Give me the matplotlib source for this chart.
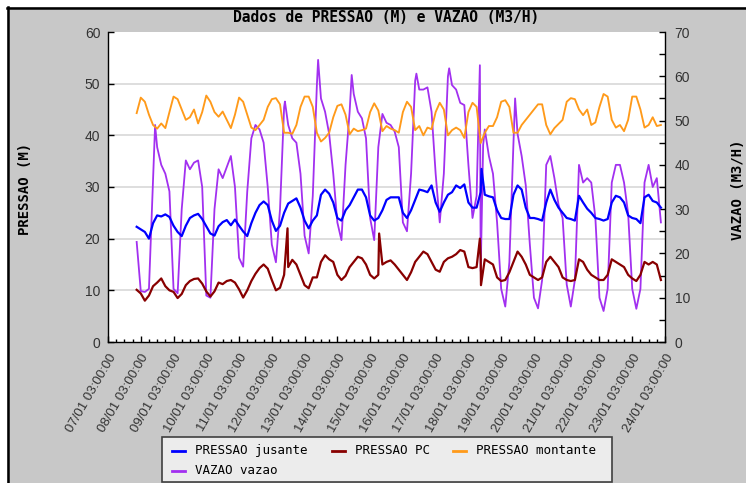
import numpy as np
import matplotlib
matplotlib.use("Agg")
import matplotlib.pyplot as plt
from matplotlib.patches import Rectangle
from matplotlib.lines import Line2D
from matplotlib.transforms import blended_transform_factory

# ---------------- data ----------------
# hours since 07/01 03:00:00 ; samples every 3 h from 08/01 00:00 to 24/01 00:00
sample_hours = 21 + 3 * np.arange(129)

day_labels = ["%02d/01 03:00:00" % d for d in range(7, 25)]
left_ticks = [0, 10, 20, 30, 40, 50, 60]
right_ticks = [0, 10, 20, 30, 40, 50, 60, 70]

pressao_montante = [
    44.3, 47.3, 46.5, 44, 42, 41.3, 42.3, 41.4, 44.5, 47.5,
    47, 45, 43, 43.5, 45, 42.3, 44.5, 47.7, 46.5, 44.5,
    43.6, 44.6, 43, 41.4, 44, 47.3, 46.5, 44, 41.5, 41,
    42, 43, 45.5, 47, 47.2, 46, 40.5, 40.5, 40.3, 42,
    45.5, 47.5, 47.5, 45.5, 40.5, 38.8, 39.5, 40.5, 43.5, 45.7,
    46, 44, 40.2, 41.3, 40.8, 41, 41.3, 44.5, 46.2, 44.8,
    40.8, 41.8, 41.3, 41, 40.5, 44.5, 46.5, 45.5, 41, 41.8,
    40, 41.5, 41.2, 44.5, 46.3, 45, 40, 41, 41.5, 41,
    39.5, 44.5, 46.3, 45.5, 38.5, 40.5, 41.8, 41.8, 43.5, 46.5,
    46.8, 45.5, 40.5, 40.5, 42, 43, 44, 45, 46, 46,
    42, 40.2, 41.4, 42.2, 43, 46.5, 47.2, 47, 45, 43.9,
    45, 42, 42.5, 45.5, 48, 47.5, 43, 41.5, 42, 40.8,
    43, 47.5, 47.5, 45, 41.5, 42, 43.5, 41.8, 42]

pressao_jusante = [
    22.3, 21.8, 21.3, 20, 23, 24.5, 24.3, 24.7, 24.2, 22.5,
    21.3, 20.5, 22.5, 24, 24.5, 24.8, 23.8, 22.4, 21, 20.6,
    22.4, 23.2, 23.6, 22.6, 23.7, 22.5, 21.4, 20.5, 23, 25,
    26.5, 27.2, 26.5, 23.5, 21.5, 22.5, 25, 26.8, 27.3, 27.8,
    26, 23.5, 22, 23.5, 24.5, 28.5, 29.5, 28.7, 27, 24,
    23.5, 25.5, 26.5, 28, 29.5, 29.5, 28, 24.5, 23.5, 24,
    25.5, 27.5, 28, 28, 28, 25, 24, 25.5, 27.5, 29.5,
    29.3, 29, 30.3, 27, 25.2, 27, 28.5, 29, 30.3, 29.8,
    30.5, 27, 26, 26, 29, 28.5, 28.2, 28, 25.5, 24,
    23.8, 23.8, 28.5, 30.3, 29.5, 26, 24, 24, 23.8, 23.5,
    27, 29.5, 27.5, 26, 25, 24, 23.8, 23.5, 28.3, 27,
    25.8, 25, 24, 23.8, 23.5, 23.8, 27, 28.3, 28, 27,
    24.5, 24, 23.8, 23, 28, 28.5, 27.3, 27, 26]

pressao_pc = [
    10.1, 9.4, 8, 9, 10.8, 11.5, 12.3, 10.8, 10, 9.7,
    8.5, 9.3, 11, 11.8, 12.2, 12.3, 11.3, 9.8, 8.8, 9.8,
    11.5, 11.2, 11.8, 12, 11.5, 10.2, 8.6, 10, 11.8, 13.2,
    14.3, 15, 14.2, 12, 10, 10.5, 13, 14.5, 15.9, 15,
    13, 11, 10.4, 12.5, 12.5, 15.5, 16.8, 16, 15.5, 13,
    12, 12.8, 14.5, 15.5, 16.5, 16.2, 15, 13, 12.3, 13,
    15, 15.5, 15.8, 15, 14, 13, 12, 13.5, 15.5, 16.5,
    17.5, 17, 15.5, 14, 13.6, 15.5, 16.2, 16.5, 17, 17.8,
    17.5, 14.5, 14.3, 14.5, 16, 16, 15.5, 15, 12.5, 11.8,
    12, 13.5, 15.5, 17.5, 16.5, 15, 13, 12.5, 12, 12.5,
    15.5, 16.5, 15.5, 14.5, 12.5, 12, 11.8, 12, 16, 15.5,
    14, 13, 12.5, 12, 12, 13, 16, 15.5, 15, 14.5,
    13, 12.3, 11.8, 13, 15.5, 15, 15.5, 15, 12]

vazao = [
    22.6, 11.5, 11.3, 12, 37, 44, 40, 38, 34, 12,
    11, 30, 41, 39, 40.5, 41, 35, 10.5, 10, 30,
    39, 37, 39.5, 42, 35, 19, 17, 34, 46, 49,
    48, 45, 35, 22, 18, 30, 53, 49, 46, 45,
    38, 24, 20, 33, 58, 55, 52, 47, 38, 27,
    23, 40, 52, 56, 52, 50.5, 46, 28, 23, 44,
    51.5, 49.5, 49, 47.5, 44, 27, 25, 38, 59, 57,
    57, 57.5, 52, 38, 27, 38, 60, 58, 57, 54,
    53.5, 40, 28, 33, 16, 48, 42, 38, 27, 12,
    8, 18, 45, 47, 42, 35.4, 22, 10, 7.6, 14,
    40, 42, 37, 31, 28, 13, 8, 14, 40, 36,
    37, 36, 28, 10, 7, 12, 36, 40, 40, 36,
    29, 12, 7.5, 12, 36, 40, 35, 37, 27]

# short spikes read between the 3-hour samples (hour, value)
pc_spike_hours = [131.5, 198.6, 272.4, 273.2]
pc_spike_values = [22, 21, 20, 11]
jusante_spike_hours = [273.6]
jusante_spike_values = [33.5]
vazao_spike_hours = [34.5, 129.6, 153.9, 178.5, 225.9, 249.9, 272.4, 274.8, 298.2]
vazao_spike_values = [49, 54.3, 63.7, 60.3, 60.6, 61.8, 62.5, 44.5, 55]


def merged(hours, values, extra_h, extra_v):
    h = np.concatenate([np.asarray(hours, float), np.asarray(extra_h, float)])
    v = np.concatenate([np.asarray(values, float), np.asarray(extra_v, float)])
    order = np.argsort(h, kind="stable")
    return h[order], v[order]


# ---------------- figure ----------------
W, H = 746, 483
fig = plt.figure(figsize=(W / 100, H / 100), dpi=100)
fig.patch.set_facecolor("white")

GRAY = "#c8c8c8"
fig.add_artist(Rectangle((7 / W, 0), (W - 7) / W, (H - 7) / H, transform=fig.transFigure,
                         facecolor=GRAY, edgecolor="none", zorder=0))
fig.add_artist(Line2D([7 / W, 1], [1 - 8 / H, 1 - 8 / H], transform=fig.transFigure,
                      color="black", lw=1.8, zorder=1))
fig.add_artist(Line2D([8 / W, 8 / W], [0, 1 - 7 / H], transform=fig.transFigure,
                      color="black", lw=1.8, zorder=1))

L, R, T, B = 108, 665, 32, 342
ax = fig.add_axes([L / W, (H - B) / H, (R - L) / W, (B - T) / H])
ax2 = ax.twinx()
ax.set_zorder(3)
ax2.set_zorder(2)
ax.patch.set_visible(False)
ax2.patch.set_visible(True)
ax2.patch.set_facecolor("white")

C_JUS = "#0000ff"
C_PC = "#880000"
C_MON = "#ff9a1a"
C_VAZ = "#a230f0"

# horizontal grid (left-axis values) drawn under the flow line
gtrans = blended_transform_factory(ax2.transAxes, ax.transData)
for g in left_ticks[1:-1]:
    ax2.plot([0, 1], [g, g], transform=gtrans, color="#d8d8d8", lw=1.2, zorder=0.5)

hv, vv = merged(sample_hours, vazao, vazao_spike_hours, vazao_spike_values)
ax2.plot(hv, vv, color=C_VAZ, lw=1.3, zorder=2)

ax.plot(sample_hours, pressao_montante, color=C_MON, lw=1.35, zorder=2)
hp, vp = merged(sample_hours, pressao_pc, pc_spike_hours, pc_spike_values)
ax.plot(hp, vp, color=C_PC, lw=1.6, zorder=3)
hj, vj = merged(sample_hours, pressao_jusante, jusante_spike_hours, jusante_spike_values)
ax.plot(hj, vj, color=C_JUS, lw=1.6, zorder=4)

# axes ranges & ticks
ax.set_xlim(0, 24 * (len(day_labels) - 1))
ax.set_ylim(0, 60)
ax2.set_ylim(0, 70)

ax.set_xticks(np.arange(len(day_labels)) * 24)
ax.set_xticks(np.arange(0, 24 * (len(day_labels) - 1) + 1, 6), minor=True)
ax.set_xticklabels(day_labels, rotation=60, ha="right", va="top", rotation_mode="anchor",
                   fontsize=9.5, family="Liberation Sans", color="#333333")
ax.set_yticks(left_ticks)
ax.set_yticklabels([str(v) for v in left_ticks], fontsize=10, family="Liberation Sans",
                   color="#333333")
ax2.set_yticks(right_ticks)
ax2.set_yticks(np.arange(0, 71, 5), minor=True)
ax2.set_yticklabels([str(v) for v in right_ticks], fontsize=10, family="Liberation Sans",
                    color="#333333")

ax.tick_params(axis="x", which="major", direction="in", length=4, width=1, pad=7)
ax.tick_params(axis="x", which="minor", direction="in", length=2, width=1)
ax.tick_params(axis="y", which="major", direction="in", length=4, width=1, pad=5.5)
ax2.tick_params(axis="y", which="both", direction="in", length=4, width=1, pad=7)

for a in (ax, ax2):
    a.spines["top"].set_visible(False)
ax.spines["right"].set_visible(False)
ax2.spines["left"].set_visible(False)
ax2.spines["bottom"].set_visible(False)
for s in ("left", "bottom"):
    ax.spines[s].set_color("black")
    ax.spines[s].set_linewidth(1.0)
ax2.spines["right"].set_color("black")
ax2.spines["right"].set_linewidth(1.0)

# texts
MONO = "DejaVu Sans Mono"
fig.text(((L + R) / 2) / W, 1 - 17 / H, "Dados de PRESSAO (M) e VAZAO (M3/H)", ha="center",
         va="center", fontsize=10.5, fontweight="bold", family=MONO)
fig.text(25 / W, 1 - 189 / H, "PRESSAO (M)", rotation=90, ha="center", va="center",
         fontsize=10, fontweight="bold", family=MONO)
fig.text(738 / W, 1 - 190 / H, "VAZAO (M3/H)", rotation=90, ha="center", va="center",
         fontsize=10, fontweight="bold", family=MONO)

# legend (drawn as a box with sample lines)
fig.add_artist(Rectangle((162 / W, (H - 482) / H), 450 / W, 45 / H, transform=fig.transFigure,
                         facecolor="#ececec", edgecolor="#404040", lw=1.2, zorder=5))
legend_entries = [("PRESSAO jusante", C_JUS, 172, 450.5),
                  ("PRESSAO PC", C_PC, 332, 450.5),
                  ("PRESSAO montante", C_MON, 453, 450.5),
                  ("VAZAO vazao", C_VAZ, 172, 470.5)]
for label, col, x0, yy in legend_entries:
    fig.add_artist(Line2D([x0 / W, (x0 + 13) / W], [1 - yy / H, 1 - yy / H],
                          transform=fig.transFigure, color=col, lw=2.0, zorder=6))
    fig.text((x0 + 23) / W, 1 - yy / H, label, ha="left", va="center", fontsize=9,
             family=MONO, zorder=6)

fig.savefig("out.png", dpi=100, facecolor=fig.get_facecolor())
